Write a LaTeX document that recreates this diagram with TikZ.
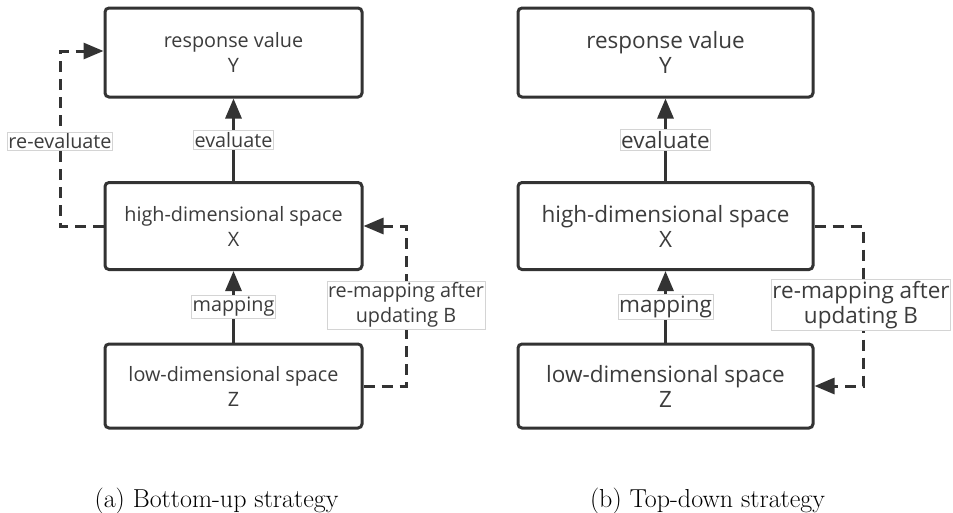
\documentclass[tikz,border=0pt]{standalone}
\usepackage{fontspec}
\setmainfont{Open Sans}
\newfontfamily\capfont{Latin Modern Roman}
\usetikzlibrary{arrows.meta}
\definecolor{ink}{HTML}{333333}
\definecolor{txt}{HTML}{3C3C3C}
\definecolor{lblrule}{HTML}{D4D4D4}
\tikzset{
  box/.style={draw=ink, line width=3pt, rounded corners=4pt, fill=white,
    align=center, text=txt, inner sep=0pt},
  lbox/.style={box, minimum width=257pt, font=\fontsize{19.8}{25}\selectfont},
  rbox/.style={box, minimum width=295pt, font=\fontsize{22.5}{25}\selectfont},
  lbl/.style={draw=lblrule, line width=0.7pt, fill=white, text=txt,
    inner xsep=1pt, inner ysep=1.5pt, align=center},
  llbl/.style={lbl, font=\fontsize{19.8}{25}\selectfont},
  rlbl/.style={lbl, font=\fontsize{22.5}{25}\selectfont},
  flow/.style={draw=ink, line width=3pt,
    -{Triangle[length=20pt,width=16pt]}},
  dflow/.style={flow, dash pattern=on 11pt off 7pt},
  caption/.style={font=\capfont\fontsize{26}{30}\selectfont, text=black,
    anchor=base, inner sep=0pt}
}
\begin{document}
\begin{tikzpicture}[x=1pt,y=-1pt]
\useasboundingbox (0,0) rectangle (953,512);

% (a) bottom-up strategy
\node[lbox, minimum height=89pt] (ly) at (233.5,52.5) {response value\\Y};
\node[lbox, minimum height=87pt] (lx) at (233.5,226) {high-dimensional space\\X};
\node[lbox, minimum height=84pt] (lz) at (233.5,386) {low-dimensional space\\Z};

\draw[flow] (lx.north) -- node[llbl] (lev) {evaluate} (ly.south);
\draw[flow] (lz.north) -- node[llbl] (lmap) {mapping} (lx.south);
\coordinate (lreA) at (60,226);
\coordinate (lreB) at (60,51);
\draw[dflow] (lx.west) -- (lreA) -- (lreB) -- (ly.west |- lreB);
\node[llbl] (lre) at (60,141) {re-evaluate};
\coordinate (lrmA) at (406,386);
\coordinate (lrmB) at (406,226);
\draw[dflow] (lz.east) -- (lrmA) -- (lrmB) -- (lx.east);
\node[llbl] (lrm) at (406,305) {re-mapping after\\updating B};

% (b) top-down strategy
\node[rbox, minimum height=89pt] (ry) at (665.5,52.5) {response value\\Y};
\node[rbox, minimum height=87pt] (rx) at (665.5,226) {high-dimensional space\\X};
\node[rbox, minimum height=84pt] (rz) at (665.5,386) {low-dimensional space\\Z};

\draw[flow] (rx.north) -- node[rlbl] (rev) {evaluate} (ry.south);
\draw[flow] (rz.north) -- node[rlbl] (rmap) {mapping} (rx.south);
\coordinate (rrmA) at (863,226);
\coordinate (rrmB) at (863,386);
\draw[dflow] (rx.east) -- (rrmA) -- (rrmB) -- (rz.east);
\node[rlbl] (rrm) at (861,305) {re-mapping after\\updating B};

% captions
\node[caption] (capa) at (216.5,507) {(a) Bottom-up strategy};
\node[caption] (capb) at (707.5,507) {(b) Top-down strategy};
\end{tikzpicture}
\end{document}
